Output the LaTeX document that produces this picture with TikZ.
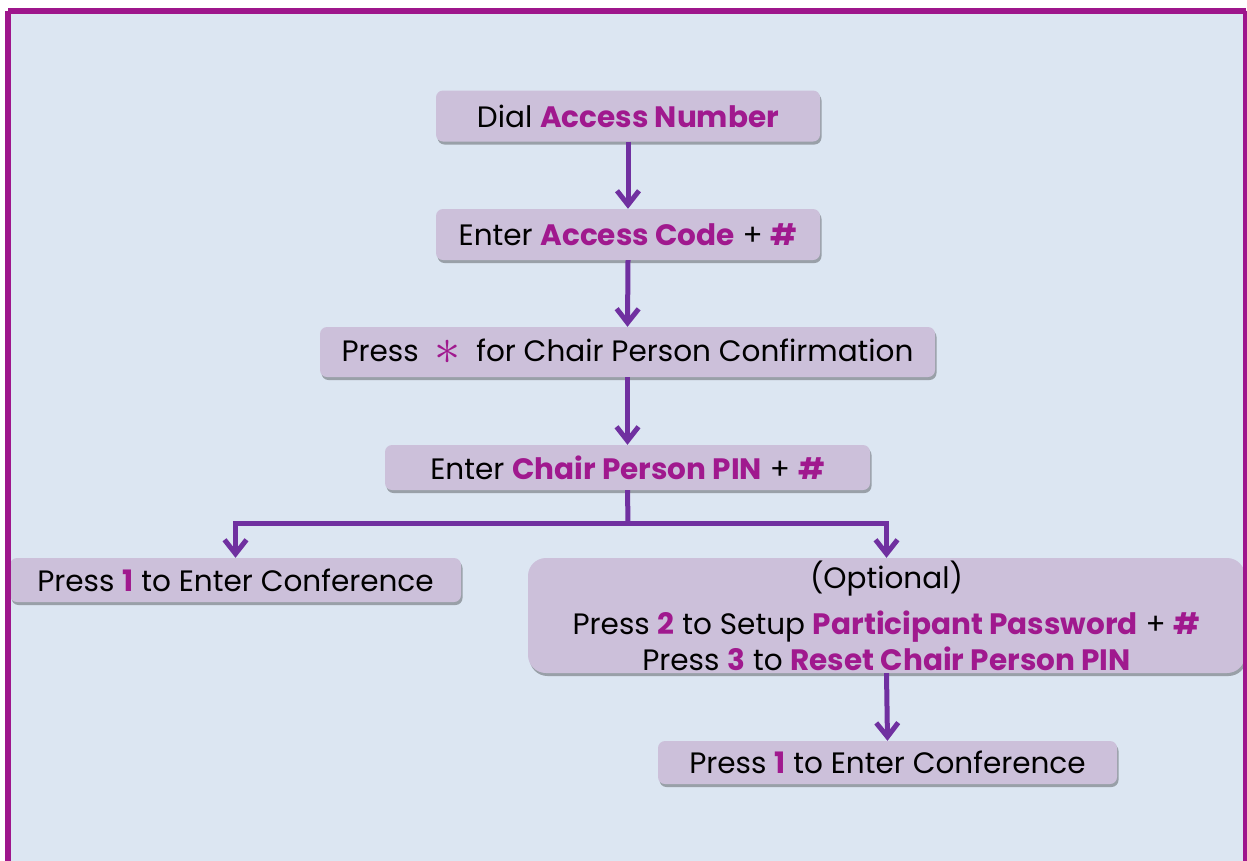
\documentclass[tikz,border=0pt]{standalone}
\usepackage{fontspec}
\setmainfont{Poppins}
\usetikzlibrary{arrows.meta,shadows}
\definecolor{bg}{HTML}{DCE6F2}
\definecolor{frame}{HTML}{9E168C}
\definecolor{boxfill}{HTML}{CCC0DA}
\definecolor{arr}{HTML}{7030A0}
\definecolor{hl}{HTML}{A0198E}
\newcommand{\hlt}[1]{\textcolor{hl}{\bfseries #1}}
\begin{document}
\begin{tikzpicture}[x=1pt,y=-1pt,
  stepbox/.style={fill=boxfill, rounded corners=7pt, inner sep=0pt,
    drop shadow={shadow xshift=1.5pt,shadow yshift=-3pt,fill=black,opacity=0.3},
    font=\fontsize{29.5}{36}\selectfont, text=black},
  conn/.style={draw=arr, line width=5pt, -{Straight Barb[length=14pt,width=22pt]}},
  plain/.style={draw=arr, line width=5pt}]
\clip (0,0) rectangle (1247,860);
\fill[white] (0,0) rectangle (1247,860);
\fill[bg] (11,13) rectangle (1243,870);

\node[stepbox, minimum width=384pt, minimum height=51pt] (b1) at (628,116) {Dial \hlt{Access Number}};
\node[stepbox, minimum width=384pt, minimum height=51pt] (b2) at (628,234.5) {Enter \hlt{Access Code} + \hlt{\#}};
\node[stepbox, minimum width=615pt, minimum height=50pt] (b3) at (627.5,352) {Press\ \ \textcolor{hl}{\raisebox{-0.1em}{\scalebox{2.1}{$\ast$}}}\ \ for Chair Person Confirmation};
\node[stepbox, minimum width=485pt, minimum height=45pt] (b4) at (627.5,467.5) {Enter \hlt{Chair Person PIN} + \hlt{\#}};
\node[stepbox, minimum width=451pt, minimum height=44pt] (b5) at (235.5,580) {Press \hlt{1} to Enter Conference};
\node[stepbox, rounded corners=18pt, minimum width=717pt, minimum height=115pt, align=center] (b6) at (886.5,615.5)
  {(Optional)\\[10pt]Press \hlt{2} to Setup \hlt{Participant Password} + \hlt{\#}\\Press \hlt{3} to \hlt{Reset Chair Person PIN}};
\node[stepbox, minimum width=459pt, minimum height=43pt] (b7) at (887.5,762.5) {Press \hlt{1} to Enter Conference};

\coordinate (j) at (628,523);
\draw[conn] (b1.south) -- (b2.north);
\draw[conn] (b2.south) -- (b3.north);
\draw[conn] (b3.south) -- (b4.north);
\draw[plain] (b4.south) -- (j);
\draw[conn] (j) -| (b5.north);
\draw[conn] (j) -| (b6.north);
\draw[conn] (b6.south) -- (b7.north);

\draw[frame, line width=6pt] (8,10.5) -- (1246,10.5);
\draw[frame, line width=6pt] (8,10.5) -- (8,870);
\draw[frame, line width=4pt] (1245,10.5) -- (1245,870);
\end{tikzpicture}
\end{document}
